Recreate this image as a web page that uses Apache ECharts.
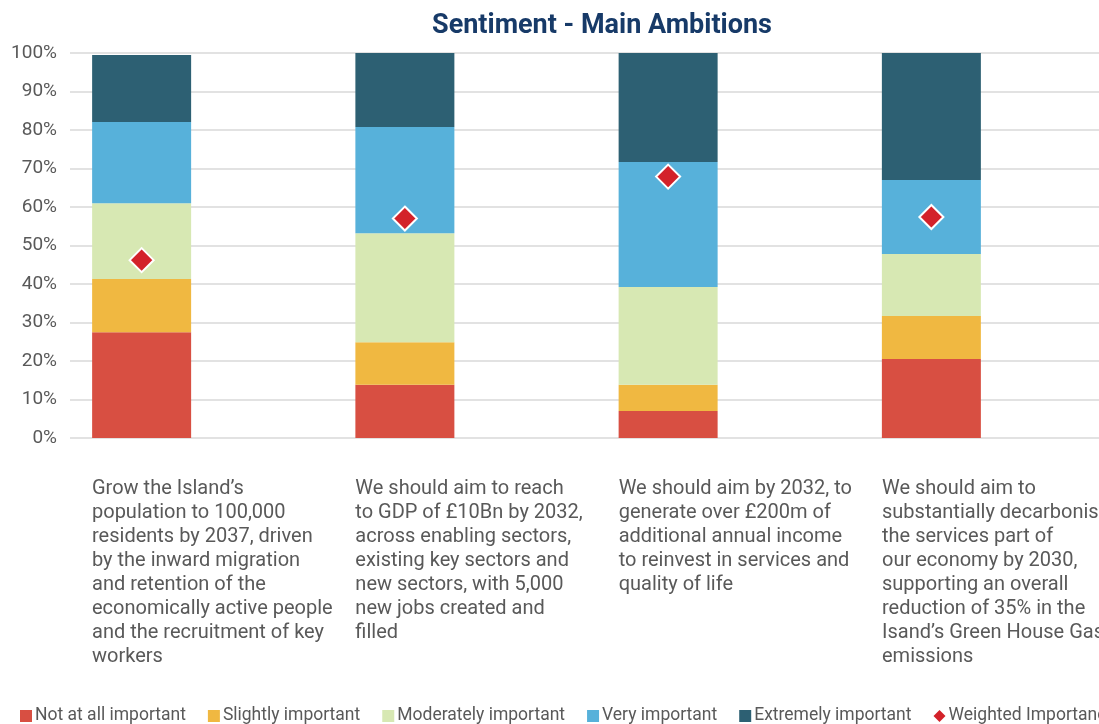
<!DOCTYPE html>
<html>
<head>
<meta charset="utf-8">
<title>Sentiment - Main Ambitions</title>
<script src="https://cdn.jsdelivr.net/npm/echarts@6/dist/echarts.min.js"></script>
<style>
  html, body { margin: 0; padding: 0; background: #fff; }
  #chart { width: 1099px; height: 724px; }
</style>
</head>
<body>
<div id="chart"></div>
<script>
// ambition statements (line breaks as in the source)
const categories = [
  'Grow the Island\u2019s\npopulation to 100,000\nresidents by 2037, driven\nby the inward migration\nand retention of the\neconomically active people\nand the recruitment of key\nworkers',
  'We should aim to reach\nto GDP of \u00a310Bn by 2032,\nacross enabling sectors,\nexisting key sectors and\nnew sectors, with 5,000\nnew jobs created and\nfilled',
  'We should aim by 2032, to\ngenerate over \u00a3200m of\nadditional annual income\nto reinvest in services and\nquality of life',
  'We should aim to\nsubstantially decarbonise\nthe services part of\nour economy by 2030,\nsupporting an overall\nreduction of 35% in the\nIsand\u2019s Green House Gas\nemissions'
];

// share of responses, %
const notAtAll = [27.5, 13.8, 7.0, 20.5];
const slightly = [13.8, 11.1, 6.8, 11.2];
const moderately = [19.7, 28.3, 25.4, 16.1];
const very = [21.1, 27.6, 32.5, 19.2];
const extremely = [17.4, 19.2, 28.3, 33.0];
const weighted = [46.2, 57.0, 67.9, 57.4];

const yTicks = [0, 10, 20, 30, 40, 50, 60, 70, 80, 90, 100];

const FONT = 'Roboto, "Noto Sans", sans-serif';
const chart = echarts.init(document.getElementById('chart'));

const barSeries = (name, data, color) => ({
  name: name,
  type: 'bar',
  stack: 'total',
  xAxisIndex: 1,
  yAxisIndex: 1,
  barWidth: 99,
  data: data,
  itemStyle: { color: color },
  emphasis: { disabled: true }
});

const option = {
  animation: false,
  textStyle: { fontFamily: FONT },
  title: {
    text: 'Sentiment - Main Ambitions',
    left: 597,
    top: 8,
    textAlign: 'center',
    textStyle: { fontSize: 27, fontWeight: 'bold', color: '#173a68', fontFamily: FONT }
  },
  legend: {
    left: 20,
    top: 707,
    width: 1400,
    padding: 0,
    itemWidth: 12,
    itemHeight: 12,
    itemGap: 22,
    textStyle: { fontSize: 17.5, color: '#595959', fontFamily: FONT, padding: [0, 0, 0, -2] },
    data: [
      { name: 'Not at all important', icon: 'rect' },
      { name: 'Slightly important', icon: 'rect' },
      { name: 'Moderately important', icon: 'rect' },
      { name: 'Very important', icon: 'rect' },
      { name: 'Extremely important', icon: 'rect' },
      { name: 'Weighted Importance', icon: 'diamond', itemStyle: { borderWidth: 0 } }
    ]
  },
  grid: [
    // gridlines + y labels
    { left: 70, right: -200, top: 53, bottom: 286, outerBoundsMode: 'none' },
    // bars
    { left: 10, width: 1053, top: 53, bottom: 286, outerBoundsMode: 'none' },
    // category text
    { left: 92, width: 790, top: 53, bottom: 286, outerBoundsMode: 'none' }
  ],
  xAxis: [
    { gridIndex: 0, type: 'category', data: categories, show: false },
    { gridIndex: 1, type: 'category', data: categories, show: false },
    {
      gridIndex: 2,
      type: 'category',
      data: categories,
      boundaryGap: false,
      axisLine: { show: false },
      axisTick: { show: false },
      axisLabel: {
        align: 'left',
        verticalAlign: 'top',
        margin: 39,
        fontSize: 20,
        lineHeight: 24,
        color: '#595959',
        fontFamily: FONT,
        interval: 0,
        hideOverlap: false
      }
    }
  ],
  yAxis: [
    {
      gridIndex: 0,
      type: 'value',
      min: 0,
      max: 100,
      interval: 10,
      axisLine: { show: false },
      axisTick: { show: false },
      splitLine: { lineStyle: { color: '#d9d9d9', width: 1.5 } },
      axisLabel: {
        margin: 13,
        fontSize: 19,
        color: '#595959',
        fontFamily: FONT,
        formatter: v => (yTicks.includes(v) ? v + '%' : '')
      }
    },
    { gridIndex: 1, type: 'value', min: 0, max: 100, show: false },
    { gridIndex: 2, type: 'value', min: 0, max: 100, show: false }
  ],
  series: [
    barSeries('Not at all important', notAtAll, '#d84f42'),
    barSeries('Slightly important', slightly, '#f0b841'),
    barSeries('Moderately important', moderately, '#d7e8b3'),
    barSeries('Very important', very, '#57b1da'),
    barSeries('Extremely important', extremely, '#2d6073'),
    {
      name: 'Weighted Importance',
      type: 'scatter',
      xAxisIndex: 1,
      yAxisIndex: 1,
      symbol: 'diamond',
      symbolSize: 24,
      data: weighted,
      itemStyle: { color: '#d3222a', borderColor: '#ffffff', borderWidth: 2, opacity: 1 },
      z: 5,
      emphasis: { disabled: true }
    }
  ]
};

chart.setOption(option);
</script>
</body>
</html>
